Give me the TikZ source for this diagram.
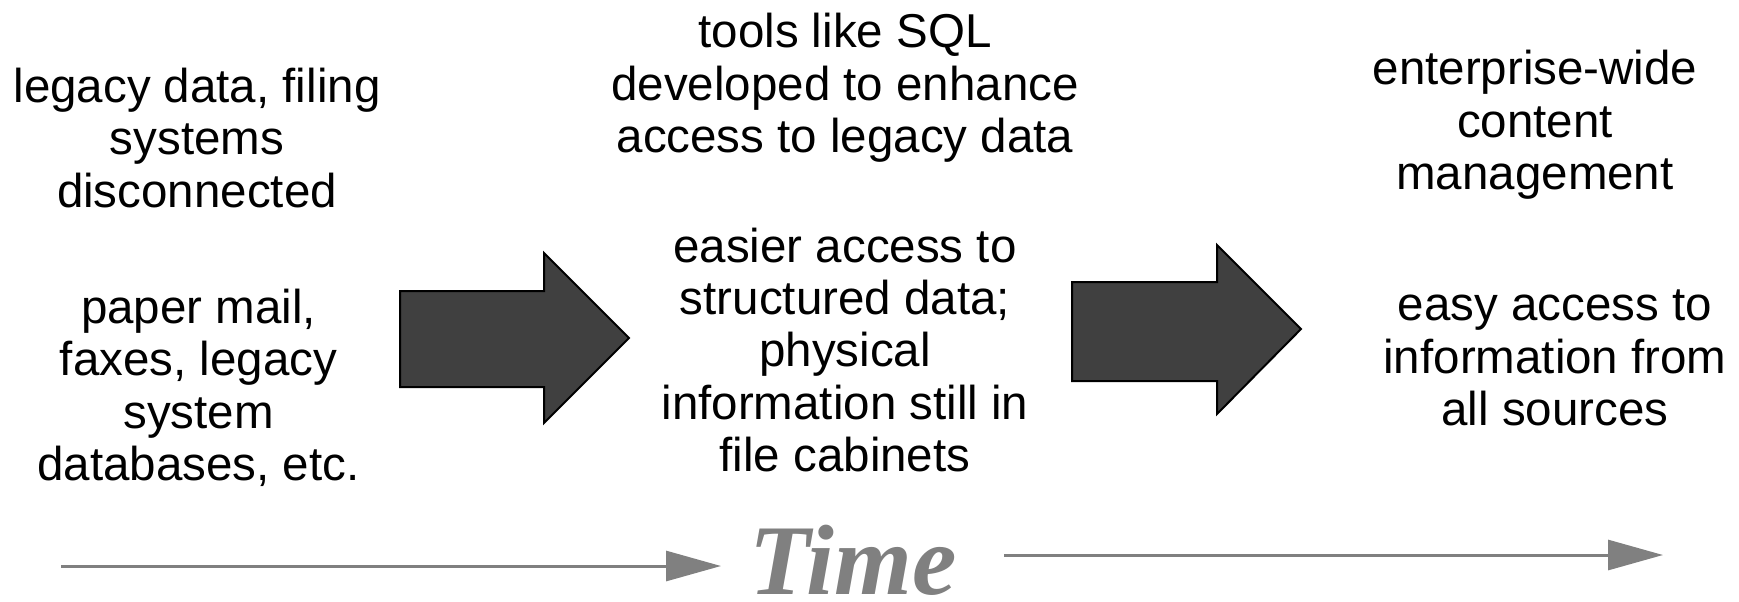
\documentclass[tikz,border=0pt]{standalone}
\usepackage{xcolor}
\usepackage{fontspec}
\setmainfont{Liberation Sans}
\newfontfamily\timefont{Liberation Serif}
\usepackage{tikz}
\usetikzlibrary{
  positioning,
  arrows.meta
}
\definecolor{arrowfill}{HTML}{404040}
\definecolor{timegray}{HTML}{808080}

\begin{document}
\begin{tikzpicture}[
  x=0.5pt, y=-0.5pt,
  note/.style={inner sep=0pt, align=center, font=\fontsize{23.75}{26.2}\selectfont},
  bigarrow/.style={draw=black, line width=1pt, fill=arrowfill, line join=miter},
  timeline/.style={draw=timegray, line width=1.5pt, -{Triangle[length=27.5pt, width=15pt]}},
]
\useasboundingbox (0,0) rectangle (1739,601);

% Textos de cada etapa
\node[note] (legacy) at (197, 138) {legacy data, filing\\systems\\disconnected};
\node[note] (paper) at (198.5, 388) {paper mail,\\faxes, legacy\\system\\databases, etc.};
\node[note] (tools) at (845, 88) {tools like SQL\\developed to enhance\\access to legacy data};
\node[note] (easier) at (845, 350) {easier access to\\structured data;\\physical\\information still in\\file cabinets};
\node[note] (enterprise) at (1535, 125) {enterprise-wide\\content\\management};
\node[note] (easy) at (1555, 358) {easy access to\\information from\\all sources};

% Flechas grandes
\draw[bigarrow] (400,291) -- (544,291) -- (544,253) -- (629,338) -- (544,423) -- (544,387) -- (400,387) -- cycle;
\draw[bigarrow] (1072,282) -- (1217,282) -- (1217,245) -- (1301,329) -- (1217,414) -- (1217,381) -- (1072,381) -- cycle;

% Eje de tiempo
\node[inner sep=0pt, anchor=base, text=timegray, font=\timefont\bfseries\itshape\fontsize{50}{50}\selectfont] (time) at (853, 594) {Time};
\coordinate (l0) at (61, 566);
\coordinate (l1) at (721, 566);
\coordinate (r0) at (1004, 555);
\coordinate (r1) at (1663, 555);
\draw[timeline] (l0) -- (l1);
\draw[timeline] (r0) -- (r1);

\end{tikzpicture}
\end{document}
